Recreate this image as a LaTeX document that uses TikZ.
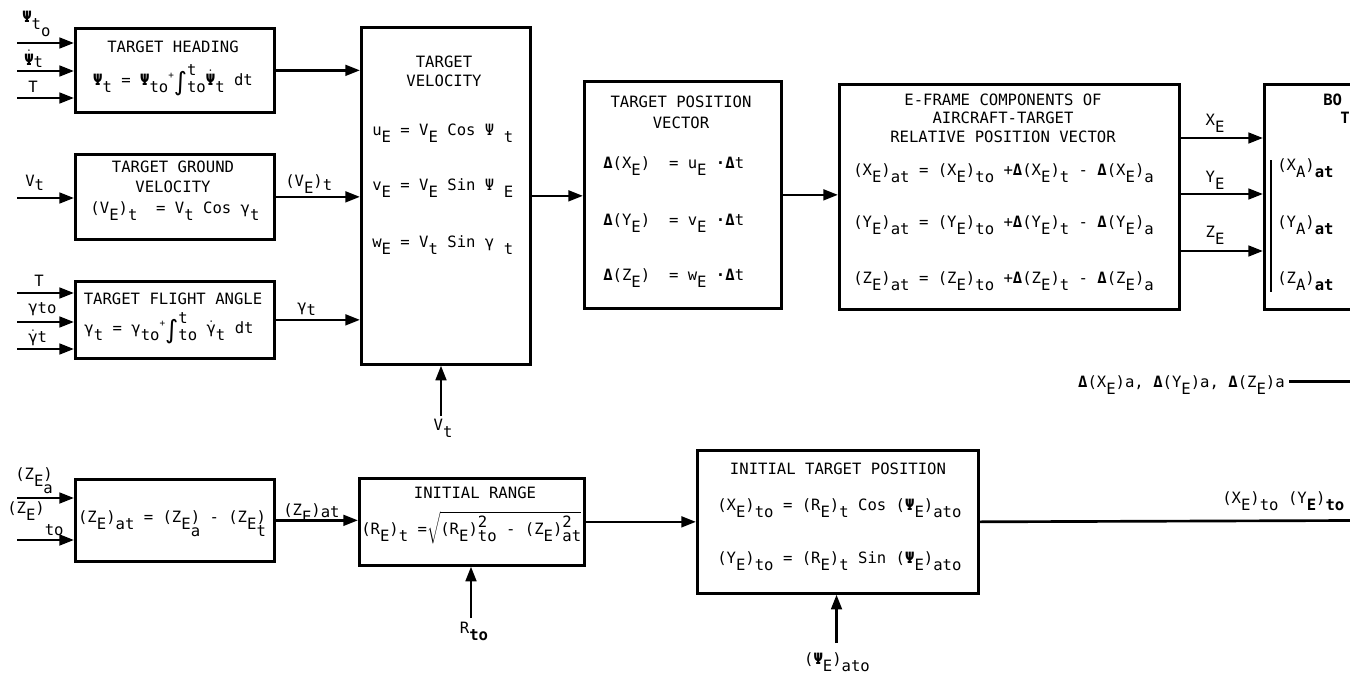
\documentclass[tikz,border=0pt]{standalone}
\usepackage{fontspec}
\setmainfont{DejaVu Sans Mono}
\newfontfamily\djs{DejaVu Sans}
\usetikzlibrary{arrows.meta}
\newcommand\myLo[1]{\raisebox{-5.5pt}{#1}}
\newcommand\myHi[1]{\raisebox{5pt}{#1}}
\newcommand\myLap[1]{\rlap{\myLo{#1}}}
\newcommand\myDot[1]{\ensuremath{\dot{\hbox{#1}}}}
\newcommand\myD{\textbf{Δ}}
\newcommand\myPS{\textbf{Ψ}}
\newcommand\myInt[2]{{\djs\fontsize{19}{19}\selectfont\raisebox{-4pt}{∫}}\rlap{\raisebox{7pt}{#1}}\myLo{#2}}
\newcommand\mySupSub[2]{\rlap{\raisebox{5pt}{#1}}\myLo{#2}}
\begin{document}
\begin{tikzpicture}[x=0.75pt,y=-0.75pt,
  every node/.style={font=\fontsize{11.7}{13}\selectfont, inner sep=0pt},
  blk/.style={draw, line width=2pt, anchor=north west, inner sep=0pt},
  txt/.style={anchor=base},
  ltxt/.style={anchor=base west},
  arr/.style={line width=2pt, -{Triangle[length=11pt,width=8pt]}},
  ln/.style={line width=2pt}]
\clip (0,0) rectangle (1350,682);
% boxes
\node[blk, minimum width=199*0.75pt, minimum height=84*0.75pt] (hd) at (74,27) {};
\node[blk, minimum width=199*0.75pt, minimum height=85*0.75pt] (gv) at (74,153) {};
\node[blk, minimum width=199*0.75pt, minimum height=77*0.75pt] (fa) at (74,280) {};
\node[blk, minimum width=169*0.75pt, minimum height=337*0.75pt] (tv) at (360,26) {};
\node[blk, minimum width=197*0.75pt, minimum height=227*0.75pt] (tp) at (583,80) {};
\node[blk, minimum width=340*0.75pt, minimum height=225*0.75pt] (ef) at (838,83) {};
\node[blk, minimum width=120*0.75pt, minimum height=225*0.75pt] (bd) at (1263,83) {};
\node[blk, minimum width=199*0.75pt, minimum height=82*0.75pt] (za) at (74,478) {};
\node[blk, minimum width=225*0.75pt, minimum height=87*0.75pt] (ir) at (358,477) {};
\node[blk, minimum width=281*0.75pt, minimum height=143*0.75pt] (it) at (696,449) {};

% target heading
\node[txt] (hdT) at (173,52) {TARGET HEADING};
\node[txt] (hdE) at (173,85) {\myPS\myLo{t} = \myPS\myLo{to}\myHi{\scriptsize+}\myInt{t}{to}\myDot{\myPS}\myLo{t} dt};
% ground velocity
\node[txt] (gvT1) at (173,172) {TARGET GROUND};
\node[txt] (gvT2) at (173,192) {VELOCITY};
\node[txt] (gvE) at (175,213) {(V\myLo{E})\myLo{t}~ = V\myLo{t} Cos γ\myLo{t}};
% flight angle
\node[txt] (faT) at (173,304) {TARGET FLIGHT ANGLE};
\node[txt] (faE) at (169,333) {γ\myLo{t} = γ\myLo{to}\myHi{\scriptsize+}\myInt{t}{to} \myDot{γ}\myLo{t} dt};
% target velocity
\node[txt] (tvT1) at (444,67) {TARGET};
\node[txt] (tvT2) at (444,86) {VELOCITY};
\node[ltxt] (tvE1) at (372,135) {u\myLo{E} = V\myLo{E} Cos Ψ \myLo{t}};
\node[ltxt] (tvE2) at (372,190) {v\myLo{E} = V\myLo{E} Sin Ψ \myLo{E}};
\node[ltxt] (tvE3) at (372,247) {w\myLo{E} = V\myLo{t} Sin γ \myLo{t}};
% target position vector
\node[txt] (tpT1) at (681,107) {TARGET POSITION};
\node[txt] (tpT2) at (681,128) {VECTOR};
\node[ltxt] (tpE1) at (603,168) {\myD(X\myLo{E})~ = u\myLo{E} \textbf{·}\myD t};
\node[ltxt] (tpE2) at (603,225) {\myD(Y\myLo{E})~ = v\myLo{E} \textbf{·}\myD t};
\node[ltxt] (tpE3) at (603,280) {\myD(Z\myLo{E})~ = w\myLo{E} \textbf{·}\myD t};
% E-frame
\node[txt] (efT1) at (1003,105) {E-FRAME COMPONENTS OF};
\node[txt] (efT2) at (1003,123) {AIRCRAFT-TARGET};
\node[txt] (efT3) at (1003,142) {RELATIVE POSITION VECTOR};
\node[ltxt] (efE1) at (853,175) {(X\myLo{E})\myLo{at} = (X\myLo{E})\myLo{to} +\myD(X\myLo{E})\myLo{t} - \myD(X\myLo{E})\myLo{a}};
\node[ltxt] (efE2) at (853,227) {(Y\myLo{E})\myLo{at} = (Y\myLo{E})\myLo{to} +\myD(Y\myLo{E})\myLo{t} - \myD(Y\myLo{E})\myLo{a}};
\node[ltxt] (efE3) at (853,283) {(Z\myLo{E})\myLo{at} = (Z\myLo{E})\myLo{to} +\myD(Z\myLo{E})\myLo{t} - \myD(Z\myLo{E})\myLo{a}};
% body box (cut at edge)
\node[ltxt] (bdT1) at (1323,105) {\textbf{BO}};
\node[ltxt] (bdT2) at (1340,123) {\textbf{T}};
\node[ltxt] (bdE1) at (1277,170) {(X\myLo{A})\myLo{\textbf{at}}};
\node[ltxt] (bdE2) at (1277,227) {(Y\myLo{A})\myLo{\textbf{at}}};
\node[ltxt] (bdE3) at (1277,283) {(Z\myLo{A})\myLo{\textbf{at}}};
\draw[line width=1.2pt] (1271,160) -- (1271,292);
% delta label
\node[anchor=base east] (dl) at (1285,387) {\myD(X\myLo{E})a, \myD(Y\myLo{E})a, \myD(Z\myLo{E})a};
\draw[ln] ([xshift=3pt,yshift=4pt]dl.base east) -- ++(100,0);
% Z box
\node[txt] (zaE) at (172,522) {(Z\myLo{E})\myLo{at} = (Z\myLo{E\myLap{a}}) - (Z\myLo{E\myLap{t}})};
% initial range
\node[txt] (irT) at (475,498) {INITIAL RANGE};
\node[ltxt] (irE) at (361,534) {(R\myLo{E})\myLo{t} =$\sqrt{\hbox{(R\myLo{E})\mySupSub{2}{to} - (Z\myLo{E})\mySupSub{2}{at}}}$};
% initial target position
\node[txt] (itT) at (838,474) {INITIAL TARGET POSITION};
\node[ltxt] (itE1) at (717,510) {(X\myLo{E})\myLo{to} = (R\myLo{E})\myLo{t} Cos (\myPS\myLo{E})\myLo{ato}};
\node[ltxt] (itE2) at (717,563) {(Y\myLo{E})\myLo{to} = (R\myLo{E})\myLo{t} Sin (\myPS\myLo{E})\myLo{ato}};

% inputs left
\coordinate (a1) at (17,43); \coordinate (a2) at (17,71); \coordinate (a3) at (17,98);
\draw[arr] (a1) -- (a1 -| hd.west);
\draw[arr] (a2) -- (a2 -| hd.west);
\draw[arr] (a3) -- (a3 -| hd.west);
\node[ltxt] (la1) at (22,22) {\myPS\myLo{t\myLap{o}}};
\node[ltxt] (la2) at (24,65) {\myDot{\myPS}\raisebox{-1.5pt}{t}};
\node[txt] (la3) at (33,92) {T};
\coordinate (b1) at (17,198);
\draw[arr] (b1) -- (b1 -| gv.west);
\node[ltxt] (lb1) at (25,186) {V\raisebox{-3pt}{t}};
\coordinate (c1) at (17,293); \coordinate (c2) at (17,322); \coordinate (c3) at (17,349);
\draw[arr] (c1) -- (c1 -| fa.west);
\draw[arr] (c2) -- (c2 -| fa.west);
\draw[arr] (c3) -- (c3 -| fa.west);
\node[txt] (lc1) at (39,286) {T};
\node[ltxt] (lc2) at (28,312) {γ\raisebox{-1pt}{to}};
\node[ltxt] (lc3) at (28,342) {\myDot{γ}t};
\coordinate (d1) at (17,498); \coordinate (d2) at (17,540);
\draw[arr] (d1) -- (d1 -| za.west);
\draw[arr] (d2) -- (d2 -| za.west);
\node[ltxt] (ld1) at (15,479) {(Z\myLo{E\myLap{a}})};
\node[ltxt] (ld2) at (7,513) {(Z\myLo{E})\raisebox{-17pt}{to}};

% main flow
\draw[arr] (hd.east) -- (hd.east -| tv.west);
\draw[arr] (gv.east) -- (gv.east -| tv.west);
\node[ltxt] (lgv) at (285,186) {(V\myLo{E})\raisebox{-3pt}{t}};
\draw[arr] (fa.east) -- (fa.east -| tv.west);
\node[ltxt] (lfa) at (297,311) {γ\raisebox{-3pt}{t}};
\draw[arr] (tv.east) -- (tv.east -| tp.west);
\draw[arr] (tp.east) -- (tp.east -| ef.west);
\coordinate (e1) at (1178,138); \coordinate (e2) at (1178,194); \coordinate (e3) at (1178,251);
\draw[arr] (e1) -- (e1 -| bd.west);
\draw[arr] (e2) -- (e2 -| bd.west);
\draw[arr] (e3) -- (e3 -| bd.west);
\node[txt] (le1) at (1215,125) {X\myLo{E}};
\node[txt] (le2) at (1215,182) {Y\myLo{E}};
\node[txt] (le3) at (1215,237) {Z\myLo{E}};
\draw[arr] (za.east) -- (za.east -| ir.west);
\node[ltxt] (lza) at (283,515) {(Z\myLo{E})\raisebox{-2pt}{at}};
\draw[arr] (ir.east) -- (ir.east -| it.west);
\coordinate (ox) at (1350,520.5);
\draw[ln] (it.east) -- (ox);
\node[ltxt] (lout) at (1222,503) {(X\myLo{E})\myLo{to} (Y\myLo{\textbf{E}})\myLo{\textbf{to}}};

% inputs from below
\coordinate (vt) at (441,416);
\draw[arr] (vt) -- (vt |- tv.south);
\node[txt] (lvt) at (443,430) {V\myLo{t}};
\coordinate (rt) at (471,618);
\draw[arr] (rt) -- (rt |- ir.south);
\node[txt] (lrt) at (474,633) {R\myLo{\textbf{to}}};
\coordinate (pe) at (836.5,643);
\draw[arr] (pe) -- (pe |- it.south);
\node[txt] (lpe) at (837,664) {(\myPS\myLo{E})\myLo{ato}};
\end{tikzpicture}
\end{document}
